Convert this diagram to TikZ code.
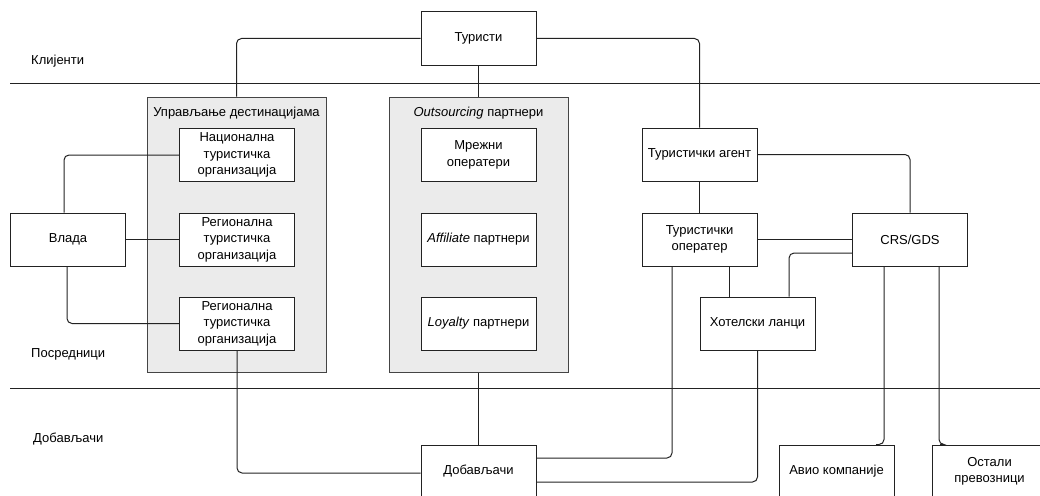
\documentclass[tikz,border=0pt]{standalone}
\usepackage{fontspec}
\setmainfont{Liberation Sans}
\usetikzlibrary{calc}
\definecolor{linec}{HTML}{222222}
\definecolor{panelfill}{HTML}{EBEBEB}
\definecolor{panelline}{HTML}{444444}
\begin{document}
\begin{tikzpicture}[x=1pt,y=-1pt,
  every node/.style={font=\fontsize{13}{16.5}\selectfont, text=black},
  box/.style={draw=linec, line width=1pt, fill=white, minimum width=115pt, minimum height=53pt, inner sep=2pt, align=center},
  panel/.style={draw=panelline, line width=1pt, fill=panelfill, minimum width=179pt, minimum height=275pt},
  conn/.style={draw=linec, line width=1pt, rounded corners=5pt},
  sep/.style={draw=linec, line width=1pt},
  lane/.style={anchor=west, inner sep=0pt}]
\useasboundingbox (0,0) rectangle (1040,495);
\clip (0,0) rectangle (1040,495);

% lane separators and lane names
\coordinate (sepAl) at (10,83);  \coordinate (sepAr) at (1040,83);
\coordinate (sepBl) at (10,388); \coordinate (sepBr) at (1040,388);
\draw[sep] (sepAl) -- (sepAr);
\draw[sep] (sepBl) -- (sepBr);
\node[lane] (lk) at (31,61) {Клијенти};
\node[lane] (lp) at (31,354) {Посредници};
\node[lane] (ld) at (33,439) {Добављачи};

% grouped panels
\node[panel] (dm) at (236.5,234.5) {};
\node[inner sep=0pt] (dmt) at (236.5,113) {Управљање дестинацијама};
\node[panel] (op) at (478.5,234.5) {};
\node[inner sep=0pt] (opt) at (478.5,113) {\textit{Outsourcing} партнери};

% boxes
\node[box] (tur) at (478.5,38.5) {Туристи};
\node[box] (nat) at (237,155) {Национална\\туристичка\\организација};
\node[box] (reg1) at (237,239.5) {Регионална\\туристичка\\организација};
\node[box] (reg2) at (237,323.5) {Регионална\\туристичка\\организација};
\node[box] (vl) at (68,239.5) {Влада};
\node[box] (mr) at (478.5,155) {Мрежни\\оператери};
\node[box] (af) at (478.5,239.5) {\textit{Affiliate} партнери};
\node[box] (lo) at (478.5,323.5) {\textit{Loyalty} партнери};
\node[box] (ag) at (699.5,154.5) {Туристички агент};
\node[box] (to) at (699.5,239.5) {Туристички\\оператер};
\node[box] (crs) at (910,239.5) {CRS/GDS};
\node[box] (ht) at (757.5,323.5) {Хотелски ланци};
\node[box] (db) at (478.5,471.5) {Добављачи};
\node[box] (av) at (836.5,471.5) {Авио компаније};
\node[box] (os) at (989.5,471.5) {Остали\\превозници};

% connectors
\draw[conn] (tur.west) -| (dm.north);
\draw[conn] (tur.south) -- (op.north);
\draw[conn] (tur.east) -| (ag.north);
\draw[conn] ([xshift=-4pt]vl.north) |- (nat.west);
\draw[conn] (vl.east) -- (reg1.west);
\draw[conn] ([xshift=-1pt]vl.south) |- (reg2.west);
\draw[conn] (reg2.south) |- ([yshift=-1.5pt]db.west);
\draw[conn] (op.south) -- (db.north);
\draw[conn] (ag.east) -| (crs.north);
\draw[conn] (ag.south) -- (to.north);
\draw[conn] (to.east) -- (crs.west);
\draw[conn] ([yshift=-13.5pt]crs.west) -| ([xshift=31.5pt]ht.north);
\draw[conn] ([xshift=29.5pt]to.south) -- ([xshift=29.5pt]to.south |- ht.north);
\draw[conn] ([xshift=-27.5pt]to.south) |- ([yshift=13.5pt]db.east);
\draw[conn] (ht.south) |- ([yshift=-10.5pt]db.east);
\draw[conn] ([xshift=-26pt]crs.south) |- ([xshift=39.5pt]av.north);
\draw[conn] ([xshift=29pt]crs.south) |- ([xshift=-49.5pt]os.north);
\end{tikzpicture}
\end{document}
